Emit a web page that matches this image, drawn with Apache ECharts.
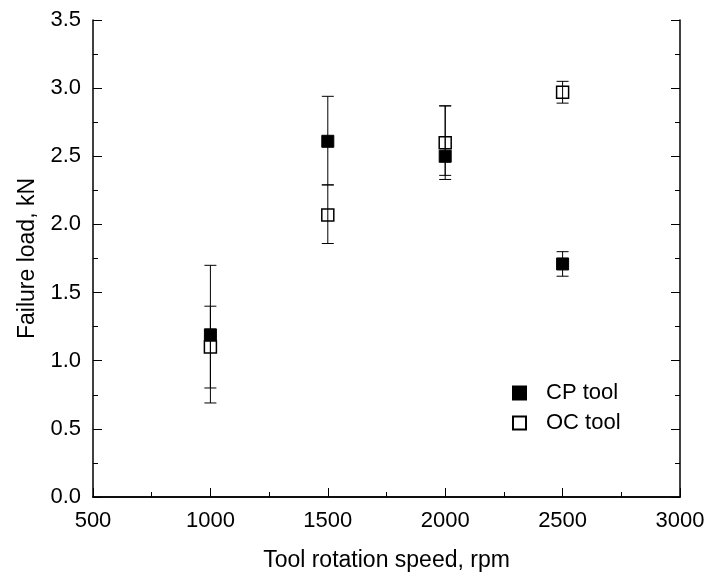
<!DOCTYPE html>
<html>
<head>
<meta charset="utf-8">
<script src="https://cdn.jsdelivr.net/npm/echarts@6/dist/echarts.min.js"></script>
<style>html,body{margin:0;padding:0;background:#fff;}#c{width:709px;height:577px;}</style>
</head>
<body>
<div id="c"></div>
<script>
var speeds = [1000, 1500, 2000, 2500];
var cpLoad = [1.19, 2.61, 2.50, 1.71];
var cpLow  = [0.69, 2.29, 2.33, 1.62];
var cpHigh = [1.70, 2.94, 2.87, 1.80];
var ocLoad = [1.10, 2.07, 2.60, 2.97];
var ocLow  = [0.80, 1.86, 2.36, 2.89];
var ocHigh = [1.40, 2.29, 2.87, 3.05];
var xTicks = [500, 1000, 1500, 2000, 2500, 3000];
var yTicks = [0, 0.5, 1.0, 1.5, 2.0, 2.5, 3.0, 3.5];

var FONT = '"Liberation Sans", Arial, sans-serif';
function pts(v) { return speeds.map(function (s, i) { return [s, v[i]]; }); }
function bars(lo, hi) { return speeds.map(function (s, i) { return [s, lo[i], hi[i]]; }); }

function errRender(params, api) {
  var x = api.value(0);
  var lo = api.coord([x, api.value(1)]);
  var hi = api.coord([x, api.value(2)]);
  var hw = 6;
  var st = { stroke: '#000', lineWidth: 1 };
  return {
    type: 'group',
    children: [
      { type: 'line', shape: { x1: hi[0], y1: hi[1], x2: lo[0], y2: lo[1] }, style: st },
      { type: 'line', shape: { x1: hi[0] - hw, y1: hi[1], x2: hi[0] + hw, y2: hi[1] }, style: st },
      { type: 'line', shape: { x1: lo[0] - hw, y1: lo[1], x2: lo[0] + hw, y2: lo[1] }, style: st }
    ]
  };
}

var axLine = { show: true, lineStyle: { color: '#000', width: 1.5 } };
var chart = echarts.init(document.getElementById('c'), null, { renderer: 'canvas' });
chart.setOption({
  backgroundColor: '#fff',
  animation: false,
  textStyle: { fontFamily: FONT },
  grid: { left: 93, right: 29, top: 20, bottom: 80 },
  legend: {
    orient: 'vertical',
    left: 507, top: 377,
    itemWidth: 13, itemHeight: 13, itemGap: 8,
    textStyle: { fontSize: 22, color: '#000', fontFamily: FONT, padding: [0, 0, 0, 15] },
    data: [
      { name: 'CP tool', icon: 'rect' },
      { name: 'OC tool', icon: 'rect' }
    ]
  },
  xAxis: [{
    type: 'value', min: xTicks[0], max: xTicks[xTicks.length - 1], interval: 500,
    name: 'Tool rotation speed, rpm', nameLocation: 'middle', nameGap: 52,
    nameTextStyle: { fontSize: 23, color: '#000', fontFamily: FONT },
    axisLine: axLine,
    axisTick: { show: true, inside: true, length: 9, lineStyle: { color: '#000', width: 1 } },
    minorTick: { show: true, splitNumber: 2, length: 5, lineStyle: { color: '#000', width: 1 } },
    axisLabel: { fontSize: 22, color: '#000', margin: 13, fontFamily: FONT, formatter: function (v) { return String(v); } },
    splitLine: { show: false }
  }, {
    type: 'value', position: 'top', min: xTicks[0], max: xTicks[xTicks.length - 1], interval: 500,
    axisLine: axLine, axisTick: { show: false }, axisLabel: { show: false }, splitLine: { show: false }
  }],
  yAxis: [{
    type: 'value', min: yTicks[0], max: yTicks[yTicks.length - 1], interval: 0.5,
    name: 'Failure load, kN', nameLocation: 'middle', nameGap: 52,
    nameTextStyle: { fontSize: 23, color: '#000', fontFamily: FONT },
    axisLine: axLine,
    axisTick: { show: true, inside: true, length: 9, lineStyle: { color: '#000', width: 1 } },
    minorTick: { show: true, splitNumber: 2, length: 5, lineStyle: { color: '#000', width: 1 } },
    axisLabel: { fontSize: 22, color: '#000', margin: 12, fontFamily: FONT, formatter: function (v) { return v.toFixed(1); } },
    splitLine: { show: false }
  }, {
    type: 'value', position: 'right', min: yTicks[0], max: yTicks[yTicks.length - 1], interval: 0.5,
    axisLine: axLine,
    axisTick: { show: true, inside: true, length: 9, lineStyle: { color: '#000', width: 1 } },
    minorTick: { show: true, splitNumber: 2, length: 5, lineStyle: { color: '#000', width: 1 } },
    axisLabel: { show: false }, splitLine: { show: false }
  }],
  series: [
    { name: 'CP tool', type: 'scatter', symbol: 'rect', symbolSize: 12, z: 3,
      itemStyle: { color: '#000', borderColor: '#000', borderWidth: 1, opacity: 1 },
      data: pts(cpLoad) },
    { name: 'OC tool', type: 'scatter', symbol: 'rect', symbolSize: 12, z: 4,
      itemStyle: { color: '#fff', borderColor: '#000', borderWidth: 1.5, opacity: 1 },
      data: pts(ocLoad) },
    { name: 'cpErr', type: 'custom', renderItem: errRender, z: 5, silent: true,
      encode: { x: 0, y: [1, 2] }, data: bars(cpLow, cpHigh) },
    { name: 'ocErr', type: 'custom', renderItem: errRender, z: 5, silent: true,
      encode: { x: 0, y: [1, 2] }, data: bars(ocLow, ocHigh) }
  ]
});
</script>
</body>
</html>
